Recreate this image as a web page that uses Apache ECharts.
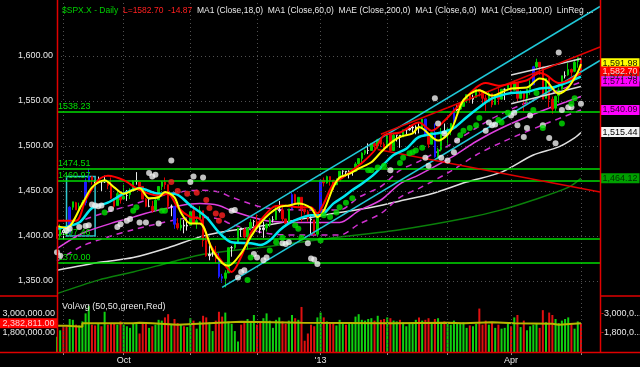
<!DOCTYPE html>
<html><head><meta charset="utf-8">
<script src="https://cdn.jsdelivr.net/npm/echarts@6/dist/echarts.min.js"></script>
<style>html,body{margin:0;padding:0;background:#000}#c{width:640px;height:367px}</style>
</head><body><div id="c"></div><script>
const dates = [
'2012-08-30','2012-08-31',
'2012-09-04','2012-09-05','2012-09-06','2012-09-07','2012-09-10','2012-09-11','2012-09-12','2012-09-13','2012-09-14','2012-09-17','2012-09-18','2012-09-19','2012-09-20','2012-09-21','2012-09-24','2012-09-25','2012-09-26','2012-09-27','2012-09-28',
'2012-10-01','2012-10-02','2012-10-03','2012-10-04','2012-10-05','2012-10-08','2012-10-09','2012-10-10','2012-10-11','2012-10-12','2012-10-15','2012-10-16','2012-10-17','2012-10-18','2012-10-19','2012-10-22','2012-10-23','2012-10-24','2012-10-25','2012-10-26','2012-10-31',
'2012-11-01','2012-11-02','2012-11-05','2012-11-06','2012-11-07','2012-11-08','2012-11-09','2012-11-12','2012-11-13','2012-11-14','2012-11-15','2012-11-16','2012-11-19','2012-11-20','2012-11-21','2012-11-23','2012-11-26','2012-11-27','2012-11-28','2012-11-29','2012-11-30',
'2012-12-03','2012-12-04','2012-12-05','2012-12-06','2012-12-07','2012-12-10','2012-12-11','2012-12-12','2012-12-13','2012-12-14','2012-12-17','2012-12-18','2012-12-19','2012-12-20','2012-12-21','2012-12-24','2012-12-26','2012-12-27','2012-12-28','2012-12-31',
'2013-01-02','2013-01-03','2013-01-04','2013-01-07','2013-01-08','2013-01-09','2013-01-10','2013-01-11','2013-01-14','2013-01-15','2013-01-16','2013-01-17','2013-01-18','2013-01-22','2013-01-23','2013-01-24','2013-01-25','2013-01-28','2013-01-29','2013-01-30','2013-01-31',
'2013-02-01','2013-02-04','2013-02-05','2013-02-06','2013-02-07','2013-02-08','2013-02-11','2013-02-12','2013-02-13','2013-02-14','2013-02-15','2013-02-19','2013-02-20','2013-02-21','2013-02-22','2013-02-25','2013-02-26','2013-02-27','2013-02-28',
'2013-03-01','2013-03-04','2013-03-05','2013-03-06','2013-03-07','2013-03-08','2013-03-11','2013-03-12','2013-03-13','2013-03-14','2013-03-15','2013-03-18','2013-03-19','2013-03-20','2013-03-21','2013-03-22','2013-03-25','2013-03-26','2013-03-27','2013-03-28',
'2013-04-01','2013-04-02','2013-04-03','2013-04-04','2013-04-05','2013-04-08','2013-04-09','2013-04-10','2013-04-11','2013-04-12','2013-04-15','2013-04-16','2013-04-17','2013-04-18','2013-04-19','2013-04-22','2013-04-23','2013-04-24','2013-04-25','2013-04-26','2013-04-29','2013-04-30',
'2013-05-01','2013-05-02','2013-05-03','2013-05-06','2013-05-07','2013-05-08','2013-05-09'];

const opens = [1410,1400,
1406,1404,1403,1432,1437,1430,1433,1437,1460,1466,1461,1460,1461,1461,1459,1457,1441,1434,1447,
1441,1445,1446,1451,1461,1460,1455,1441,1433,1433,1429,1440,1455,1460,1457,1433,1433,1414,1409,1412,1411,
1412,1428,1414,1418,1428,1395,1378,1380,1380,1375,1355,1353,1359,1387,1387,1392,1409,1407,1399,1409,1416,
1416,1409,1407,1409,1413,1418,1418,1428,1429,1419,1414,1430,1446,1436,1443,1430,1427,1419,1418,1402,
1426,1462,1459,1466,1462,1457,1461,1472,1472,1470,1472,1472,1480,1486,1492,1495,1495,1503,1500,1507,1502,
1498,1513,1495,1512,1512,1510,1518,1518,1520,1520,1521,1520,1530,1511,1502,1515,1488,1496,1515,
1514,1518,1525,1540,1541,1544,1551,1557,1552,1554,1563,1560,1553,1549,1558,1546,1556,1552,1563,1563,
1569,1562,1570,1553,1559,1553,1563,1568,1588,1593,1588,1553,1575,1552,1542,1556,1563,1578,1579,1585,1583,1594,
1597];
const highs = [1410,1413,
1409,1408,1433,1438,1438,1437,1440,1464,1475,1466,1462,1466,1461,1467,1461,1465,1442,1450,1447,
1457,1451,1453,1462,1471,1460,1455,1442,1441,1439,1441,1455,1461,1465,1457,1435,1433,1420,1420,1418,1419,
1428,1434,1420,1433,1428,1400,1392,1385,1389,1381,1358,1362,1387,1389,1392,1409,1409,1409,1410,1419,1418,
1424,1413,1416,1414,1420,1422,1434,1439,1432,1419,1430,1448,1447,1443,1443,1430,1429,1422,1418,1426,
1462,1465,1467,1466,1462,1464,1472,1473,1472,1473,1473,1482,1486,1493,1496,1503,1503,1504,1508,1509,1504,
1514,1513,1514,1512,1512,1518,1519,1523,1524,1523,1525,1530,1530,1511,1515,1525,1498,1520,1525,
1520,1525,1543,1545,1545,1553,1557,1557,1557,1563,1563,1560,1557,1561,1558,1557,1564,1563,1564,1570,
1570,1573,1571,1562,1559,1563,1573,1589,1597,1593,1588,1575,1575,1555,1556,1565,1578,1583,1592,1586,1596,1598,
1598];
const lows = [1397,1398,
1396,1401,1403,1429,1429,1429,1432,1434,1460,1457,1456,1459,1450,1459,1452,1441,1430,1434,1436,
1441,1439,1441,1450,1457,1452,1441,1432,1432,1426,1427,1440,1451,1452,1429,1422,1408,1407,1406,1403,1406,
1412,1414,1408,1418,1388,1377,1373,1377,1370,1353,1348,1343,1359,1377,1385,1392,1399,1397,1385,1409,1411,
1408,1403,1398,1405,1410,1415,1418,1426,1416,1411,1414,1430,1435,1433,1416,1424,1416,1401,1401,1399,
1426,1455,1458,1456,1451,1457,1461,1468,1466,1464,1467,1472,1478,1481,1490,1491,1495,1497,1497,1499,1497,
1498,1495,1495,1505,1498,1510,1513,1517,1515,1513,1514,1520,1511,1498,1502,1487,1485,1494,1514,
1501,1512,1525,1539,1540,1544,1548,1548,1547,1554,1555,1545,1539,1549,1543,1546,1546,1552,1551,1561,
1558,1562,1550,1552,1539,1548,1557,1568,1586,1579,1552,1553,1543,1536,1539,1548,1563,1575,1578,1577,1582,1587,
1581];
const closes = [1399,1406,
1404,1403,1432,1438,1429,1433,1437,1460,1466,1462,1460,1462,1460,1460,1456,1442,1433,1447,1440,
1444,1445,1450,1461,1461,1455,1441,1433,1433,1428,1440,1455,1460,1457,1433,1433,1413,1409,1412,1411,1412,
1427,1414,1417,1428,1395,1378,1380,1380,1375,1355,1353,1359,1387,1387,1392,1409,1407,1399,1409,1415,1416,
1409,1407,1409,1413,1418,1418,1428,1429,1419,1414,1430,1446,1436,1443,1430,1427,1419,1418,1402,1426,
1462,1459,1466,1462,1457,1461,1472,1472,1471,1472,1472,1480,1486,1492,1495,1495,1503,1500,1507,1502,1498,
1513,1495,1512,1512,1510,1518,1518,1520,1521,1521,1520,1530,1512,1502,1515,1488,1496,1515,1514,
1518,1525,1540,1541,1544,1551,1557,1552,1554,1563,1560,1553,1549,1558,1546,1556,1552,1563,1563,1569,
1562,1570,1553,1559,1553,1563,1568,1588,1593,1588,1552,1575,1552,1541,1555,1562,1578,1578,1585,1582,1593,1598,
1583];
// volume in millions
const volumes = [1.55,1.95,
2.2,2.2,2.65,2.6,2.3,2.25,2.5,3.0,3.45,2.3,2.25,2.4,2.2,3.1,2.3,2.35,2.4,2.3,2.5,
2.3,2.2,2.1,2.4,2.35,1.75,2.4,2.45,2.1,2.2,2.3,2.6,2.55,2.75,2.95,2.35,2.65,2.4,2.3,2.2,2.15,
2.7,2.55,2.05,2.5,2.85,2.75,2.45,1.9,2.55,3.1,2.8,3.05,2.5,2.35,1.9,1.25,2.3,2.4,2.65,2.5,2.9,
2.3,2.45,2.7,3.0,2.55,2.1,2.6,2.75,2.5,2.35,2.55,2.9,2.7,2.6,3.4,1.3,1.75,2.3,2.2,2.75,
3.05,2.75,2.5,2.35,2.4,2.25,2.6,2.4,2.3,2.45,2.4,2.8,2.95,2.6,2.55,2.65,2.7,2.55,2.85,2.6,2.65,
2.75,2.7,2.55,2.5,2.6,2.45,2.2,2.4,2.45,2.6,2.75,2.55,2.6,2.7,2.35,2.65,2.7,2.4,2.5,
2.45,2.3,2.55,2.4,2.35,2.45,2.1,2.25,2.2,2.35,3.3,2.3,2.55,2.3,2.45,2.1,2.3,2.05,2.1,2.35,
2.2,2.75,2.9,2.15,2.55,1.95,2.2,2.3,2.35,2.1,3.2,2.45,3.05,2.9,2.65,2.4,2.55,2.65,2.75,2.3,2.05,2.5,
2.4];
const volAvg = [[0,2.23],[3,2.17],[8,2.38],[24,2.42],[26,2.38],[30,2.30],[38,2.42],[51,2.48],[58,2.42],[77,2.38],[105,2.42],[123,2.38],[128,2.45],[137,2.38],[144,2.36],[156,2.30],[158,2.38],[165,2.38]];
const volTag = 2382811;
const blueBars = [4,9,10,37,51,52,74,83,116,119,125,150];

const ma6Line = [[0,1411],[3,1409],[8,1436],[11,1454],[15,1462],[18,1454],[21,1447],[24,1451],[26,1453],[29,1442],[32,1443],[34,1449],[37,1443],[39,1426],[42,1414],[45,1414],[49,1384],[52,1370],[54,1367],[58,1381],[61,1399],[64,1414],[67,1425],[70,1432],[73,1434],[76,1436],[80,1431],[82,1421],[84,1428],[87,1454],[89,1465],[92,1469],[95,1475],[99,1482],[102,1493],[105,1503],[108,1510],[112,1514],[114,1521],[120,1506],[124,1517],[128,1551],[133,1562],[137,1556],[143,1564],[148,1565],[152,1575],[154,1573],[158,1558],[161,1565],[164,1582],[165,1591]];
const redLine = [[0,1417],[6,1417],[9,1440],[13,1462],[16,1467],[21,1462],[26,1451],[32,1445],[35,1447],[38,1432],[42,1421],[45,1419],[48,1392],[51,1376],[53,1367],[55,1360],[58,1377],[61,1403],[64,1417],[68,1432],[71,1434],[76,1432],[80,1432],[82,1425],[84,1436],[87,1458],[90,1465],[93,1473],[96,1481],[100,1495],[103,1512],[108,1515],[114,1526],[118,1517],[122,1528],[127,1547],[132,1565],[135,1570],[139,1567],[144,1570],[148,1573],[152,1581],[154,1579],[158,1570],[161,1573],[165,1581]];
const ma18Line = [[0,1408],[7,1415],[11,1431],[16,1437],[21,1447],[26,1453],[32,1447],[37,1447],[42,1434],[47,1421],[51,1404],[55,1393],[61,1392],[64,1390],[67,1395],[70,1406],[73,1414],[76,1419],[80,1423],[83,1423],[87,1436],[90,1443],[93,1451],[96,1458],[100,1469],[103,1480],[106,1490],[110,1497],[114,1510],[121,1515],[125,1520],[129,1532],[133,1543],[137,1553],[143,1559],[148,1560],[152,1564],[156,1565],[161,1571],[165,1577]];
const maeIdx = [0,8,17,24,31,39,45,51,55,66,77,89,95,102,108,114,124,132,140,152,165];
const maeMid = [1386,1403,1414,1421,1428,1434,1436,1434,1428,1417,1415,1415,1428,1440,1458,1468,1487,1505,1520,1538,1555];
const maeUp  = [1400,1417,1428,1435,1443,1449,1451,1449,1443,1431,1429,1429,1443,1455,1473,1483,1502,1520,1536,1554,1571];
const maeLow = [1372,1389,1400,1407,1413,1419,1421,1419,1413,1403,1401,1401,1413,1425,1443,1453,1472,1490,1504,1522,1540];
const ma100Line = [[0,1362],[14,1371],[24,1376],[35,1387],[45,1399],[51,1404],[66,1412],[87,1425],[98,1431],[108,1439],[118,1447],[129,1460],[140,1471],[150,1490],[158,1499],[163,1509],[165,1515]];
const ma200Line = [[0,1336],[13,1351],[24,1360],[35,1370],[45,1379],[66,1388],[87,1398],[108,1407],[129,1420],[140,1429],[150,1440],[161,1454],[165,1464]];

const linRegUpper = [[52,1403],[171,1655]];
const linRegLower = [[52,1343],[171,1595]];
const regWhiteUp = [[143,1579],[165,1597]];
const regWhiteLow = [[143,1547],[165,1566]];
const redRise = [[102,1513],[171,1610]];
const redFall = [[101,1496],[171,1449]];

const whiteDots = [[0,1382],[1,1378],[3,1406],[4,1408],[7,1410],[9,1411],[10,1412],[11,1435],[12,1434],[13,1433],[14,1434],[17,1430],[19,1410],[20,1413],[22,1417],[23,1419],[26,1415],[28,1415],[32,1414],[29,1470],[30,1466],[31,1468],[36,1484],[42,1460],[43,1466],[46,1465],[55,1428],[56,1429],[57,1354],[58,1360],[59,1362],[62,1380],[63,1376],[65,1373],[66,1376],[71,1392],[72,1391],[73,1393],[79,1392],[80,1375],[81,1374],[82,1369],[105,1473],[119,1553],[120,1525],[122,1514],[126,1506],[125,1493],[123,1484],[121,1487],[116,1487],[117,1478],[135,1517],[136,1526],[137,1523],[138,1524],[143,1534],[144,1537],[145,1523],[147,1510],[148,1520],[149,1534],[153,1523],[155,1509],[157,1503],[158,1604],[159,1540],[161,1543],[162,1543],[165,1547]];
const greenDots = [[15,1426],[24,1428],[25,1432],[33,1428],[34,1428],[60,1351],[61,1376],[67,1384],[69,1393],[71,1398],[75,1412],[76,1408],[77,1398],[83,1395],[84,1423],[86,1421],[88,1426],[89,1432],[91,1437],[93,1442],[98,1473],[99,1473],[101,1476],[103,1478],[108,1481],[109,1487],[111,1492],[112,1493],[113,1495],[115,1498],[127,1512],[128,1517],[130,1520],[132,1523],[133,1531],[139,1529],[140,1526],[142,1537],[150,1540],[151,1559],[153,1520],[159,1525],[162,1547],[163,1553]];
const redDots = [[36,1460],[38,1450],[41,1447],[44,1448],[47,1440],[48,1431],[50,1425],[51,1417],[52,1423]];

const levels = [1538.23,1474.51,1460.97,1397.46,1370.00];
const boxCorners = [[3,1466],[12,1400]];
const priceTicks = [1350,1400,1450,1500,1550,1600];
const rightTicks = [1600,1500,1450,1400,1350];
const tagValues = [1591.98,1577.33,1582.70,1571.78,1540.09,1515.44,1464.12];
const tagBg = ['#ffff00','#00ffff','#ff0000','#ff00ff','#ff00ff','#f4f4f4','#00a000'];
const tagFg = ['#202000','#003030','#ffd0d0','#300030','#300030','#000000','#003000'];
const monthStarts = [2,21,42,63,83,104,123,143,165];
const axisMonths = {21:'Oct',83:"'13",143:'Apr'};

function fmt(v,d){const s=v.toFixed(d);const p=s.split('.');return p[0].replace(/\B(?=(\d{3})+(?!\d))/g,',')+(p[1]!==undefined?'.'+p[1]:'');}
const FONT='Liberation Sans, Arial, sans-serif';
const UP='#00d000',DN='#e00000',DOJI='#e8e8e8',BLUE='#1a1aff';

const candleData = closes.map((c,i)=>{
  const o=opens[i];
  let col = c>=o?UP:DN;
  if (Math.abs(c-o)<=2) col=DOJI;
  if (blueBars.includes(i)) col=BLUE;
  return {value:[o,c,lows[i],highs[i]],itemStyle:{color:col,color0:col,borderColor:col,borderColor0:col}};
});
const volData = volumes.map((v,i)=>({value:v*1e6,itemStyle:{color:(i===0||closes[i]>=closes[i-1])?'#10d010':'#e01010'}}));

function lineS(data,color,width,z,extra){return Object.assign({type:'line',xAxisIndex:0,yAxisIndex:0,data:data,symbol:'none',smooth:0.3,z:z,lineStyle:{color:color,width:width},silent:true},extra||{});}
function straight(data,color,width,z){return {type:'line',xAxisIndex:0,yAxisIndex:0,data:data,symbol:'none',z:z,lineStyle:{color:color,width:width},silent:true};}
function dots(data,color,z){return {type:'scatter',xAxisIndex:0,yAxisIndex:0,data:data,symbolSize:6,z:z,itemStyle:{color:color},silent:true};}

const chart = echarts.init(document.getElementById('c'),null,{renderer:'canvas'});
chart.setOption({
  backgroundColor:'#000',
  animation:false,
  textStyle:{fontFamily:FONT},
  title:[
    {left:57,top:1,text:'{g|$SPX.X - Daily}  {r|L=1582.70  -14.87}  {w|MA1 (Close,18,0)}  {w|MA1 (Close,60,0)}  {w|MAE (Close,200,0)}  {w|MA1 (Close,6,0)}  {w|MA1 (Close,100,0)}  {w|LinReg ...}',
     textStyle:{fontSize:8.5,fontFamily:FONT,fontWeight:'normal',color:'#e8e8e8',rich:{g:{color:'#00d000',fontSize:8.5,fontFamily:FONT},r:{color:'#ff2020',fontSize:8.5,fontFamily:FONT},w:{color:'#e8e8e8',fontSize:8.5,fontFamily:FONT}}}},
    {left:57,top:297,text:'VolAvg (50,50,green,Red)',textStyle:{fontSize:9,fontFamily:FONT,fontWeight:'normal',color:'#e8e8e8'}}
  ],
  grid:[
    {left:57,right:40,top:0,height:296,containLabel:false,outerBoundsMode:'none'},
    {left:57,right:40,top:296,height:56,containLabel:false,outerBoundsMode:'none'}
  ],
  xAxis:[
    {gridIndex:0,type:'category',data:dates,boundaryGap:false,show:false},
    {gridIndex:1,type:'category',data:dates,boundaryGap:false,
     axisLine:{show:false},
     axisTick:{show:true,interval:(i)=>monthStarts.includes(i),length:3,lineStyle:{color:'#909090'}},
     axisLabel:{interval:(i)=>axisMonths[i]!==undefined,formatter:(v,i)=>axisMonths[i]||'',color:'#e8e8e8',fontSize:9,margin:4,fontFamily:FONT},
     splitLine:{show:false}}
  ],
  yAxis:[
    {gridIndex:0,type:'value',min:1333.333,max:1662.222,show:false},
    {gridIndex:1,type:'value',min:600000,max:4080000,interval:600000,position:'left',
     axisLine:{show:false},axisTick:{show:false},splitLine:{show:false},
     axisLabel:{margin:2,color:'#e8e8e8',fontSize:9,fontFamily:FONT,formatter:(v)=>(Math.abs(v-3e6)<1||Math.abs(v-1.8e6)<1)?fmt(v,2):''}},
    {gridIndex:1,type:'value',min:600000,max:4080000,interval:600000,position:'right',
     axisLine:{show:false},axisTick:{show:false},splitLine:{show:false},
     axisLabel:{margin:1,fontSize:9,fontFamily:FONT,formatter:(v)=>(Math.abs(v-3e6)<1||Math.abs(v-1.8e6)<1)?'{t|-}{v|'+fmt(v,2).slice(0,7)+'...}':'',
       rich:{t:{color:'#ff2020',fontSize:9},v:{color:'#e8e8e8',fontSize:9,fontFamily:FONT}}}}
  ],
  series:[
    {type:'line',xAxisIndex:0,yAxisIndex:0,data:[],z:1,silent:true,
     markLine:{silent:true,symbol:['none','none'],animation:false,
       lineStyle:{color:'#505050',type:[1,3],width:1},
       label:{show:true,position:'start',distance:4,color:'#e8e8e8',fontSize:9,fontFamily:FONT,formatter:(p)=>fmt(p.value,2)},
       data:[...priceTicks.map(v=>({yAxis:v})),...monthStarts.map(i=>({xAxis:dates[i],label:{show:false}}))]},
     markArea:{silent:true,itemStyle:{color:'rgba(0,0,0,0)',borderColor:'#30c8d0',borderWidth:1.5},
       data:[[{coord:[dates[boxCorners[0][0]],boxCorners[0][1]]},{coord:[dates[boxCorners[1][0]],boxCorners[1][1]]}]]}},
    {type:'line',xAxisIndex:0,yAxisIndex:0,data:[],z:1,silent:true,
     markLine:{silent:true,symbol:['none','none'],animation:false,lineStyle:{opacity:0},
       label:{show:true,position:'end',distance:1,fontSize:9,formatter:(p)=>'{t|-}{v|'+fmt(p.value,2)+'}',
         rich:{t:{color:'#ff2020',fontSize:9},v:{color:'#e8e8e8',fontSize:9,fontFamily:FONT}}},
       data:rightTicks.map(v=>({yAxis:v}))}},
    {type:'line',xAxisIndex:0,yAxisIndex:0,data:[],z:2,silent:true,
     markLine:{silent:true,symbol:['none','none'],animation:false,lineStyle:{color:'#00dd00',width:1.5,type:'solid'},
       label:{show:true,position:'insideStartTop',distance:[1,1],color:'#00e000',fontSize:9,fontFamily:FONT,formatter:(p)=>p.value.toFixed(2)},
       data:levels.map(v=>({yAxis:v}))}},
    lineS(ma200Line,'#0a800a',1.5,3),
    lineS(ma100Line,'#e0e0e0',1.5,3),
    lineS(maeIdx.map((x,k)=>[x,maeMid[k]]),'#e040e0',1.5,3),
    lineS(maeIdx.map((x,k)=>[x,maeUp[k]]),'#d030d0',1.5,3,{lineStyle:{color:'#d030d0',width:1.5,type:[6,5]}}),
    lineS(maeIdx.map((x,k)=>[x,maeLow[k]]),'#d030d0',1.5,3,{lineStyle:{color:'#d030d0',width:1.5,type:[6,5]}}),
    {type:'candlestick',xAxisIndex:0,yAxisIndex:0,data:candleData,barWidth:2,z:4,silent:true},
    straight(linRegUpper,'#20c8d8',1.5,5),
    straight(linRegLower,'#20c8d8',1.5,5),
    straight(regWhiteUp,'#d8d8d8',1.5,5),
    straight(regWhiteLow,'#d8d8d8',1.5,5),
    straight(redRise,'#e00000',1.5,5),
    straight(redFall,'#e00000',1.5,5),
    lineS(ma18Line,'#00e8f0',2.5,6),
    lineS(redLine,'#ff0000',2,6),
    lineS(ma6Line,'#ffff00',2,6),
    dots(whiteDots,'#f0f0f0',7),
    dots(greenDots,'#00e000',7),
    dots(redDots,'#ff2020',7),
    {type:'line',xAxisIndex:0,yAxisIndex:0,data:[],z:9,silent:true,
     markPoint:{silent:true,animation:false,
       data:tagValues.map((v,k)=>({coord:[dates[dates.length-1],v],symbol:'rect',symbolSize:[39,10],symbolOffset:[20,0],
         itemStyle:{color:tagBg[k]},label:{show:true,position:'inside',color:tagFg[k],fontSize:9,fontFamily:FONT,formatter:fmt(v,2)}}))}},
    {type:'bar',xAxisIndex:1,yAxisIndex:1,data:volData,barWidth:2,z:3,silent:true,
     markLine:{silent:true,symbol:['none','none'],animation:false,lineStyle:{color:'#505050',type:[1,3],width:1},label:{show:false},
       data:monthStarts.map(i=>({xAxis:dates[i]}))}},
    {type:'line',xAxisIndex:1,yAxisIndex:1,data:volAvg.map(p=>[p[0],p[1]*1e6]),step:'end',symbol:'none',z:4,silent:true,
     lineStyle:{color:'#b8b800',width:2},
     markPoint:{silent:true,animation:false,data:[{coord:[dates[0],volTag],symbol:'rect',symbolSize:[57,10],symbolOffset:[-28.5,0],
       itemStyle:{color:'#ff0000'},label:{show:true,position:'inside',color:'#ffd0d0',fontSize:9,fontFamily:FONT,formatter:fmt(volTag,2)}}]}}
  ],
  graphic:[
    {type:'line',z:100,shape:{x1:57.5,y1:0,x2:57.5,y2:352},style:{stroke:'#e00000',lineWidth:1.5}},
    {type:'line',z:100,shape:{x1:600.5,y1:0,x2:600.5,y2:352},style:{stroke:'#e00000',lineWidth:1.5}},
    {type:'line',z:100,shape:{x1:0,y1:352.5,x2:640,y2:352.5},style:{stroke:'#e00000',lineWidth:1.5}},
    {type:'line',z:100,shape:{x1:0,y1:296,x2:57,y2:296},style:{stroke:'#e00000',lineWidth:1.5}},
    {type:'line',z:100,shape:{x1:601,y1:296,x2:640,y2:296},style:{stroke:'#e00000',lineWidth:1.5}}
  ]
});
</script></body></html>
